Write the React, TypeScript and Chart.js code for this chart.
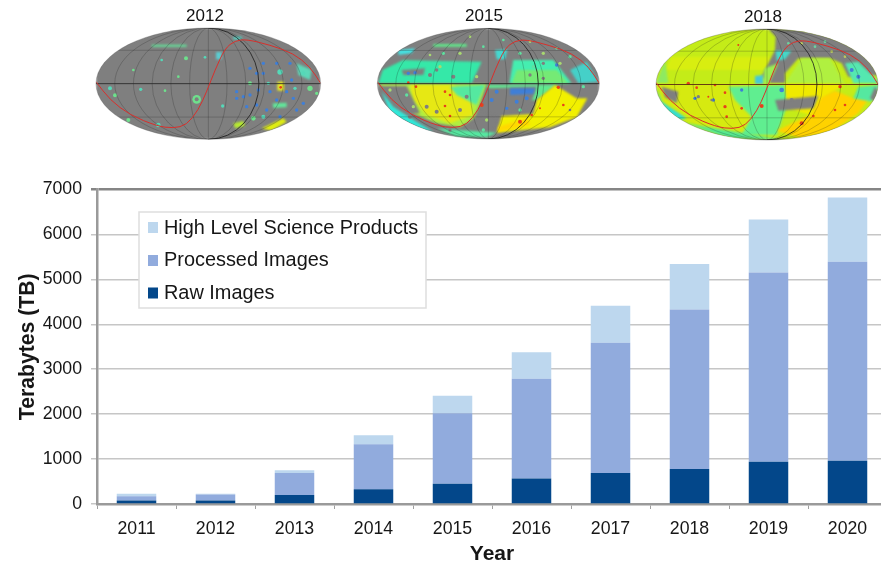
import React, { useEffect, useRef } from "react";
import { Chart, registerables } from "chart.js";

Chart.register(...registerables);

const years = ["2011", "2012", "2013", "2014", "2015", "2016", "2017", "2018", "2019", "2020"];
const rawImages = [80, 80, 200, 330, 450, 570, 690, 780, 940, 960];
const processedImages = [90, 130, 490, 1000, 1570, 2220, 2900, 3550, 4210, 4430];
const highLevelProducts = [60, 20, 60, 200, 390, 590, 820, 1010, 1180, 1430];

const FONT = '"Liberation Sans", Arial, sans-serif';
const INK = "#161616";

type Pt = number[];
type Region = { c: string; p: Pt[] };
type SkyMap = { title: string; titleX: number; titleY: number; crop: number[]; box: number[]; base: string; regions: Region[]; spots: Pt[]; spotColor: string[]; blue: Pt[]; gray: Pt[]; hot: Pt[]; equator: string };

const redCurve: Pt[] = [[0, 161], [42, 216], [102, 261], [182, 294], [232, 301], [272, 291], [307, 246], [332, 191], [357, 126], [387, 61], [417, 38], [452, 34], [522, 51], [592, 76], [642, 116], [674, 166]];

const map2012: SkyMap = {
  title: "2012", titleX: 205, titleY: 16, crop: [90, 20], box: [18, 24, 674, 334], base: "#7f7f7f", equator: "#2a2a2a",
  regions: [
    { c: "#62e59a", p: [[185, 74], [290, 74], [290, 80], [185, 80]] },
    { c: "#5cd8b8", p: [[620, 130], [665, 150], [660, 180], [625, 165]] },
    { c: "#e0ee10", p: [[515, 325], [580, 295], [590, 305], [545, 332]] },
    { c: "#b6ea30", p: [[430, 310], [460, 303], [465, 318], [435, 325]] },
    { c: "#62e59a", p: [[548, 250], [590, 248], [590, 262], [550, 264]] },
    { c: "#e8e820", p: [[562, 185], [582, 185], [582, 212], [562, 212]] },
    { c: "#50d8c8", p: [[430, 50], [455, 50], [455, 58], [430, 58]] },
    { c: "#5cccd0", p: [[378, 96], [395, 96], [395, 118], [378, 118]] },
  ],
  spots: [[320, 238, 13], [60, 205, 6], [75, 226, 6], [152, 208, 5], [288, 115, 6], [398, 258, 5], [480, 190, 6], [570, 156, 8], [660, 205, 8], [640, 160, 6], [115, 300, 6], [205, 315, 7], [490, 295, 7], [535, 190, 5], [130, 150, 4], [215, 120, 4], [265, 170, 4], [345, 112, 4], [225, 212, 4], [615, 205, 5], [680, 220, 5], [520, 290, 6]],
  spotColor: ["#6ee08c", "#55d8b8"],
  blue: [[440, 215, 5], [460, 230, 5], [480, 225, 5], [500, 160, 5], [520, 130, 5], [540, 215, 5], [560, 130, 5], [590, 215, 5], [610, 235, 5], [640, 250, 5], [570, 290, 5], [530, 270, 5], [500, 255, 5], [470, 260, 5], [440, 235, 5], [600, 130, 5], [620, 270, 5], [520, 160, 5], [480, 145, 5], [560, 240, 5], [605, 180, 5], [505, 210, 5]],
  gray: [[320, 238, 6]],
  hot: [[572, 202, 4]],
};

const map2015: SkyMap = {
  title: "2015", titleX: 484, titleY: 16, crop: [370, 20], box: [22, 25, 666, 332], base: "#7f7f7f", equator: "#222222",
  regions: [
    { c: "#35e8a8", p: [[25, 190], [38, 150], [100, 120], [175, 122], [335, 125], [305, 190]] },
    { c: "#45e0e0", p: [[85, 90], [135, 85], [125, 100], [85, 105]] },
    { c: "#60e88a", p: [[190, 72], [290, 72], [290, 80], [190, 80]] },
    { c: "#7f7f7f", p: [[95, 150], [165, 145], [160, 165], [100, 165]] },
    { c: "#45eeb0", p: [[430, 120], [550, 120], [605, 190], [418, 190]] },
    { c: "#75ea75", p: [[440, 150], [560, 150], [595, 190], [425, 190]] },
    { c: "#45d8d0", p: [[375, 90], [412, 88], [405, 118], [380, 118]] },
    { c: "#45d0c8", p: [[600, 150], [650, 125], [685, 185], [625, 190]] },
    { c: "#b0ee40", p: [[26, 192], [350, 192], [330, 250], [312, 295], [270, 322], [200, 310], [130, 280], [70, 230]] },
    { c: "#e6e814", p: [[120, 194], [250, 194], [300, 240], [310, 285], [240, 310], [170, 285], [130, 240]] },
    { c: "#55e8a0", p: [[240, 200], [345, 194], [320, 255], [260, 225]] },
    { c: "#7f7f7f", p: [[30, 198], [110, 198], [150, 280], [100, 285], [50, 245]] },
    { c: "#30e8d8", p: [[35, 215], [70, 260], [140, 305], [190, 335], [130, 325], [60, 275]] },
    { c: "#7f7f7f", p: [[312, 300], [380, 285], [370, 355], [300, 350]] },
    { c: "#60e890", p: [[350, 194], [560, 194], [500, 240], [380, 250]] },
    { c: "#7f7f7f", p: [[350, 205], [500, 200], [480, 260], [400, 285], [335, 280]] },
    { c: "#3f7fd8", p: [[420, 205], [495, 205], [490, 222], [420, 225]] },
    { c: "#f2f000", p: [[395, 288], [490, 282], [500, 240], [555, 195], [620, 235], [652, 235], [620, 292], [540, 322], [380, 338]] },
    { c: "#ffd800", p: [[385, 320], [470, 295], [480, 315], [385, 335]] },
    { c: "#55e8a0", p: [[200, 325], [380, 338], [350, 352], [260, 350]] },
  ],
  spots: [[210, 140, 5], [490, 140, 5], [570, 130, 5], [600, 110, 5], [270, 100, 5], [220, 100, 5], [520, 100, 5], [450, 100, 5], [130, 260, 5], [110, 225, 5], [60, 210, 5], [640, 200, 5], [320, 170, 5], [450, 270, 5], [300, 50, 4], [400, 60, 4], [180, 105, 4], [340, 80, 4], [480, 65, 4], [560, 85, 4], [350, 300, 5], [340, 330, 5]],
  spotColor: ["#a8d870", "#60e0a0"],
  blue: [[380, 215, 6], [365, 240, 6], [440, 245, 6], [470, 235, 6], [115, 160, 5], [135, 158, 5], [560, 135, 5], [410, 265, 5]],
  gray: [[180, 165, 6], [200, 150, 5], [250, 170, 6], [480, 165, 5], [520, 175, 5], [170, 260, 6], [200, 275, 6], [270, 270, 6], [290, 230, 6], [520, 130, 5], [600, 270, 4], [120, 290, 6], [240, 330, 5]],
  hot: [[565, 202, 5], [115, 188, 4], [138, 200, 4], [225, 215, 4], [240, 225, 4], [225, 258, 4], [240, 288, 4], [335, 255, 6], [485, 285, 4], [580, 255, 4], [450, 305, 6], [510, 265, 3]],
};

const map2018: SkyMap = {
  title: "2018", titleX: 763, titleY: 17, crop: [645, 20], box: [33, 27, 666, 333], base: "#c4ec18", equator: "#5a2a10",
  regions: [
    { c: "#d8ee10", p: [[80, 110], [380, 110], [360, 150], [60, 150]] },
    { c: "#8eea60", p: [[34, 190], [60, 120], [70, 190]] },
    { c: "#7f7f7f", p: [[370, 28], [520, 30], [650, 90], [705, 165], [610, 170], [590, 130], [555, 115], [460, 115], [420, 160], [420, 190], [375, 190], [350, 170], [390, 90], [392, 50]] },
    { c: "#45d8c8", p: [[392, 92], [440, 92], [420, 118], [395, 122]] },
    { c: "#45c8d8", p: [[330, 168], [355, 165], [358, 205], [330, 208]] },
    { c: "#9cee50", p: [[358, 145], [400, 130], [370, 195], [355, 195]] },
    { c: "#b0f040", p: [[420, 190], [470, 115], [555, 115], [600, 192]] },
    { c: "#55e8b0", p: [[600, 130], [640, 125], [705, 190], [625, 190]] },
    { c: "#d6ea10", p: [[34, 192], [420, 192], [420, 250], [400, 345], [250, 350], [120, 300], [60, 250]] },
    { c: "#60ee90", p: [[250, 200], [420, 195], [430, 245], [395, 345], [290, 345], [320, 290], [270, 240]] },
    { c: "#f0ea00", p: [[420, 192], [600, 192], [540, 232], [510, 290], [425, 262]] },
    { c: "#ffd200", p: [[395, 332], [500, 282], [530, 232], [570, 212], [625, 235], [672, 235], [640, 280], [560, 335], [470, 355]] },
    { c: "#7f7f7f", p: [[50, 200], [100, 215], [95, 250], [60, 232]] },
    { c: "#35dcd0", p: [[36, 205], [50, 245], [125, 295], [100, 300], [50, 270]] },
    { c: "#7f7f7f", p: [[390, 240], [520, 228], [505, 265], [400, 272]] },
    { c: "#55e8a0", p: [[640, 200], [703, 195], [680, 245], [625, 235]] },
    { c: "#7f7f7f", p: [[675, 235], [690, 200], [700, 215], [690, 245]] },
    { c: "#55e890", p: [[120, 310], [330, 345], [420, 360], [250, 355]] },
  ],
  spots: [[470, 70, 4], [510, 80, 4], [560, 95, 4], [430, 70, 4], [600, 110, 4], [540, 65, 4]],
  spotColor: ["#b8c860", "#6ed0a0"],
  blue: [[410, 210, 7], [150, 235, 5], [290, 210, 5], [205, 240, 5], [620, 150, 6], [640, 170, 6]],
  gray: [[200, 240, 4], [160, 230, 5], [440, 240, 6]],
  hot: [[130, 190, 5], [155, 203, 4], [240, 218, 4], [240, 260, 5], [350, 258, 6], [585, 200, 5], [600, 255, 4], [470, 310, 6], [505, 288, 4], [280, 75, 3], [210, 195, 4], [290, 265, 4], [570, 270, 4], [190, 230, 3], [245, 290, 4]],
};

const skyMaps: SkyMap[] = [map2012, map2015, map2018];

const drawPoly = (ctx: CanvasRenderingContext2D, toX: (v: number) => number, toY: (v: number) => number, p: Pt[]) => {
  ctx.beginPath();
  p.forEach((q, i) => (i ? ctx.lineTo(toX(q[0]), toY(q[1])) : ctx.moveTo(toX(q[0]), toY(q[1]))));
  ctx.closePath();
  ctx.fill();
};

const drawSkyMap = (ctx: CanvasRenderingContext2D, m: SkyMap) => {
  const toX = (v: number) => m.crop[0] + v / 3;
  const toY = (v: number) => m.crop[1] + v / 3;
  const [bx, by, bw, bh] = m.box;
  const cx = toX(bx + bw / 2);
  const cy = toY(by + bh / 2);
  const rx = bw / 6;
  const ry = bh / 6;
  ctx.save();
  ctx.beginPath();
  ctx.ellipse(cx, cy, rx, ry, 0, 0, Math.PI * 2);
  ctx.clip();
  ctx.filter = "blur(0.8px)";
  ctx.fillStyle = m.base;
  ctx.fillRect(cx - rx, cy - ry, rx * 2, ry * 2);
  m.regions.forEach((r) => {
    ctx.fillStyle = r.c;
    drawPoly(ctx, toX, toY, r.p);
  });
  ctx.filter = "blur(0.35px)";
  const dot = (s: Pt, color: string) => {
    ctx.fillStyle = color;
    ctx.beginPath();
    ctx.arc(toX(s[0]), toY(s[1]), s[2] / 3, 0, Math.PI * 2);
    ctx.fill();
  };
  m.spots.forEach((s, i) => dot(s, m.spotColor[i % 2]));
  m.blue.forEach((s) => dot(s, "#3f7fd8"));
  m.gray.forEach((s) => dot(s, "#7f7f7f"));
  m.hot.forEach((s) => dot(s, "#e8401a"));
  ctx.filter = "none";
  ctx.strokeStyle = "rgba(25,25,25,0.38)";
  ctx.lineWidth = 0.6;
  [1 / 6, 2 / 6, 3 / 6, 4 / 6, 5 / 6].forEach((k) => {
    ctx.beginPath();
    ctx.ellipse(cx, cy, rx * k, ry, 0, 0, Math.PI * 2);
    ctx.stroke();
  });
  ctx.beginPath();
  ctx.moveTo(cx, cy - ry);
  ctx.lineTo(cx, cy + ry);
  ctx.stroke();
  [-0.6, 0.6].forEach((k) => {
    ctx.beginPath();
    ctx.moveTo(cx - rx, cy + ry * k);
    ctx.lineTo(cx + rx, cy + ry * k);
    ctx.stroke();
  });
  ctx.strokeStyle = m.equator;
  ctx.lineWidth = 0.9;
  ctx.beginPath();
  ctx.moveTo(cx - rx, cy);
  ctx.lineTo(cx + rx, cy);
  ctx.stroke();
  ctx.strokeStyle = "#1a1a1a";
  ctx.lineWidth = 0.8;
  ctx.beginPath();
  ctx.ellipse(cx, cy, rx * 0.45, ry, 0, -Math.PI / 2, Math.PI / 2);
  ctx.stroke();
  ctx.strokeStyle = "#d8302c";
  ctx.lineWidth = 1;
  ctx.beginPath();
  const cp = (q: Pt) => [toX(bx + (q[0] * bw) / 674), toY(by + (q[1] * bh) / 334)];
  redCurve.forEach((q, i) => {
    const [x, y] = cp(q);
    if (i === 0) ctx.moveTo(x, y);
    else {
      const [px, py] = cp(redCurve[i - 1]);
      ctx.quadraticCurveTo(px, py, (px + x) / 2, (py + y) / 2);
    }
  });
  const [lx, ly] = cp(redCurve[redCurve.length - 1]);
  ctx.lineTo(lx, ly);
  ctx.stroke();
  ctx.restore();
  ctx.strokeStyle = "rgba(70,70,70,0.6)";
  ctx.lineWidth = 0.5;
  ctx.beginPath();
  ctx.ellipse(cx, cy, rx, ry, 0, 0, Math.PI * 2);
  ctx.stroke();
  ctx.fillStyle = "#111";
  ctx.font = `17px ${FONT}`;
  ctx.textAlign = "center";
  ctx.textBaseline = "middle";
  ctx.fillText(m.title, m.titleX, m.titleY);
};

const insetsAndLegend = {
  id: "insetsAndLegend",
  afterDraw(chart: any) {
    const ctx = chart.ctx as CanvasRenderingContext2D;
    skyMaps.forEach((m) => drawSkyMap(ctx, m));
    ctx.save();
    ctx.fillStyle = "#fff";
    ctx.fillRect(139, 212, 287, 96);
    ctx.strokeStyle = "#dedede";
    ctx.lineWidth = 1.5;
    ctx.strokeRect(139, 212, 287, 96);
    const items = [...chart.data.datasets].reverse();
    const swatchRows = [227.5, 260.5, 293];
    const textRows = [228.5, 260.5, 293.5];
    ctx.font = `19.9px ${FONT}`;
    ctx.textAlign = "left";
    ctx.textBaseline = "middle";
    items.forEach((d: any, i: number) => {
      ctx.fillStyle = d.backgroundColor;
      ctx.fillRect(148, swatchRows[i] - 5.5, 10, 11);
      ctx.fillStyle = INK;
      ctx.fillText(d.label, 164, textRows[i]);
    });
    ctx.restore();
  },
};

export default function App() {
  const ref = useRef<HTMLCanvasElement>(null);
  useEffect(() => {
    if (!ref.current) return;
    const chart = new Chart(ref.current, {
      type: "bar",
      data: {
        labels: years,
        datasets: [
          { label: "Raw Images", data: rawImages, backgroundColor: "#03478a" },
          { label: "Processed Images", data: processedImages, backgroundColor: "#91abdd" },
          { label: "High Level Science Products", data: highLevelProducts, backgroundColor: "#bdd7ee" },
        ],
      },
      options: {
        responsive: false,
        animation: false,
        devicePixelRatio: 1,
        layout: { padding: { left: 0, top: 189.5, right: 13, bottom: 0 } },
        datasets: { bar: { barPercentage: 0.5, categoryPercentage: 1 } },
        plugins: { legend: { display: false }, tooltip: { enabled: false } },
        scales: {
          x: {
            stacked: true,
            afterFit: (s: any) => { s.height = 63; },
            grid: { drawOnChartArea: false, drawTicks: true, tickLength: 5, color: "#a0a0a0", lineWidth: 1 },
            border: { color: "#9a9a9a", width: 2.5 },
            ticks: { color: INK, font: { family: FONT, size: 17.7 }, padding: 9, maxRotation: 0, autoSkip: false },
            title: { display: true, text: "Year", color: INK, font: { family: FONT, size: 21, weight: "bold" }, padding: { top: 4, bottom: 0 } },
          },
          y: {
            stacked: true,
            min: 0,
            max: 7000,
            afterFit: (s: any) => { s.width = 97; },
            grid: {
              color: (c: any) => (c.tick && c.tick.value === 7000 ? "#858585" : "#c6c6c6"),
              lineWidth: (c: any) => (c.tick && c.tick.value === 7000 ? 2.5 : 1.5),
              tickLength: 6,
            },
            border: { color: "#9a9a9a", width: 2.5 },
            ticks: { stepSize: 1000, color: INK, font: { family: FONT, size: 17.7 }, padding: 9, callback: (v: any) => String(v) },
            title: { display: true, text: "Terabytes (TB)", color: INK, font: { family: FONT, size: 21.2, weight: "bold" }, padding: { top: 15, bottom: 0 } },
          },
        },
      },
      plugins: [insetsAndLegend],
    } as any);
    return () => chart.destroy();
  }, []);
  return (
    <div style={{ position: "absolute", left: 0, top: 0, width: 881, height: 567, overflow: "hidden", background: "#fff" }}>
      <canvas ref={ref} width={900} height={567} style={{ display: "block", width: 900, height: 567 }} />
    </div>
  );
}
